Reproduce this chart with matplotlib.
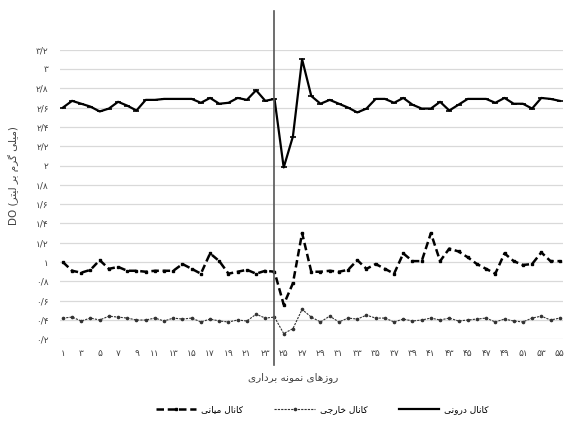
# -*- coding: utf-8 -*-

import numpy as np
import matplotlib
matplotlib.use('Agg')
import matplotlib.pyplot as plt

# روزهای نمونه برداری
days = list(range(1, 56))

# کانال درونی
inner = [2.60, 2.67, 2.64, 2.61, 2.56, 2.59, 2.66, 2.62, 2.57, 2.68,
         2.68, 2.69, 2.69, 2.69, 2.69, 2.65, 2.70, 2.64, 2.65, 2.70,
         2.68, 2.78, 2.67, 2.69, 1.98, 2.30, 3.10, 2.72, 2.64, 2.68,
         2.64, 2.60, 2.55, 2.59, 2.69, 2.69, 2.65, 2.70, 2.63, 2.59,
         2.59, 2.66, 2.57, 2.63, 2.69, 2.69, 2.69, 2.65, 2.70, 2.64,
         2.64, 2.59, 2.70, 2.69, 2.67]

# کانال میانی
middle = [1.00, 0.91, 0.89, 0.92, 1.02, 0.93, 0.95, 0.91, 0.91, 0.90,
          0.91, 0.91, 0.91, 0.98, 0.93, 0.88, 1.09, 1.01, 0.88, 0.90,
          0.92, 0.88, 0.91, 0.90, 0.56, 0.78, 1.30, 0.90, 0.90, 0.91,
          0.90, 0.92, 1.02, 0.93, 0.98, 0.93, 0.88, 1.09, 1.01, 1.01,
          1.30, 1.01, 1.14, 1.11, 1.05, 0.98, 0.93, 0.88, 1.09, 1.01,
          0.97, 0.98, 1.10, 1.01, 1.01]

# کانال خارجی
outer = [0.42, 0.43, 0.39, 0.42, 0.40, 0.44, 0.43, 0.42, 0.40, 0.40,
         0.42, 0.39, 0.42, 0.41, 0.42, 0.38, 0.41, 0.39, 0.38, 0.40,
         0.39, 0.46, 0.42, 0.43, 0.26, 0.31, 0.51, 0.43, 0.38, 0.44,
         0.38, 0.42, 0.41, 0.45, 0.42, 0.42, 0.38, 0.41, 0.39, 0.40,
         0.42, 0.40, 0.42, 0.39, 0.40, 0.41, 0.42, 0.38, 0.41, 0.39,
         0.38, 0.42, 0.44, 0.40, 0.42]

split_day = 24
y_ticks = [0.2, 0.4, 0.6, 0.8, 1.0, 1.2, 1.4, 1.6, 1.8, 2.0,
           2.2, 2.4, 2.6, 2.8, 3.0, 3.2]
x_ticks = list(range(1, 56, 2))

# presentation forms: isolated, final, initial, medial
FORMS = {
    'ا': ('\uFE8D', '\uFE8E', None, None),
    'ب': ('\uFE8F', '\uFE90', '\uFE91', '\uFE92'),
    'ت': ('\uFE95', '\uFE96', '\uFE97', '\uFE98'),
    'ج': ('\uFE9D', '\uFE9E', '\uFE9F', '\uFEA0'),
    'خ': ('\uFEA5', '\uFEA6', '\uFEA7', '\uFEA8'),
    'د': ('\uFEA9', '\uFEAA', None, None),
    'ر': ('\uFEAD', '\uFEAE', None, None),
    'ز': ('\uFEAF', '\uFEB0', None, None),
    'ک': ('\uFB8E', '\uFB8F', '\uFB90', '\uFB91'),
    'گ': ('\uFB92', '\uFB93', '\uFB94', '\uFB95'),
    'ل': ('\uFEDD', '\uFEDE', '\uFEDF', '\uFEE0'),
    'م': ('\uFEE1', '\uFEE2', '\uFEE3', '\uFEE4'),
    'ن': ('\uFEE5', '\uFEE6', '\uFEE7', '\uFEE8'),
    'ه': ('\uFEE9', '\uFEEA', '\uFEEB', '\uFEEC'),
    'و': ('\uFEED', '\uFEEE', None, None),
    'ی': ('\uFEEF', '\uFEF0', '\uFEF3', '\uFEF4'),
}


def fa(text):
    # simple shaping + reversal for right-to-left display
    out = []
    for i, ch in enumerate(text):
        if ch not in FORMS:
            out.append(ch)
            continue
        prev = text[i - 1] if i > 0 else ''
        nxt = text[i + 1] if i + 1 < len(text) else ''
        join_prev = prev in FORMS and FORMS[prev][2] is not None
        join_next = nxt in FORMS and FORMS[ch][2] is not None
        iso, fin, ini, med = FORMS[ch]
        if join_prev and join_next:
            out.append(med)
        elif join_prev:
            out.append(fin)
        elif join_next:
            out.append(ini)
        else:
            out.append(iso)
    return ''.join(out)[::-1]


def fa_num(v):
    s = f"{v:g}".replace('.', '/')
    return s.translate(str.maketrans('0123456789', '۰۱۲۳۴۵۶۷۸۹'))


plt.rcParams['font.family'] = ['DejaVu Sans']

fig = plt.figure(figsize=(5.65, 4.21), dpi=100)
ax = fig.add_axes([0.106, 0.194, 0.890, 0.688])

l_mid, = ax.plot(days, middle, color='black', lw=1.8, ls=(0, (3, 1.5)),
                 marker='s', ms=1.8, label=fa('کانال میانی'))
l_out, = ax.plot(days, outer, color='#333333', lw=0.8, ls=(0, (2, 1)),
                 marker='o', ms=1.6, label=fa('کانال خارجی'))
l_in, = ax.plot(days, inner, color='black', lw=1.6,
                marker='_', ms=4, mew=1.2, label=fa('کانال درونی'))

ax.plot([split_day, split_day], [-0.089, 1.133], color='#555555', lw=1.2,
        transform=ax.get_xaxis_transform(), clip_on=False)

ax.set_xlim(0.674, 55.33)
ax.set_ylim(0.2, 3.2)
ax.set_yticks(y_ticks)
ax.set_yticklabels([fa_num(v) for v in y_ticks])
ax.set_xticks(x_ticks)
ax.set_xticklabels([fa_num(v) for v in x_ticks])
ax.tick_params(axis='both', length=0, labelsize=6.5, colors='#404040')
ax.tick_params(axis='x', pad=7)
ax.tick_params(axis='y', pad=8)
ax.grid(axis='y', color='#d9d9d9', lw=0.9)
ax.set_axisbelow(True)
for s in ax.spines.values():
    s.set_visible(False)

ax.set_xlabel(fa('روزهای نمونه برداری'), fontsize=7.5, color='#404040')
ax.xaxis.set_label_coords(0.463, -0.113)
ax.set_ylabel('DO (' + fa('میلی گرم بر لیتر') + ')', fontsize=7.5, color='#404040')
ax.yaxis.set_label_coords(-0.082, 0.567)

fig.legend(handles=[l_mid, l_out, l_in], loc='center', ncol=3,
           bbox_to_anchor=(0.57, 0.026), frameon=False, fontsize=6.5,
           handlelength=4.5, columnspacing=3.5, handletextpad=0.5)

fig.savefig('out.png', dpi=100)
